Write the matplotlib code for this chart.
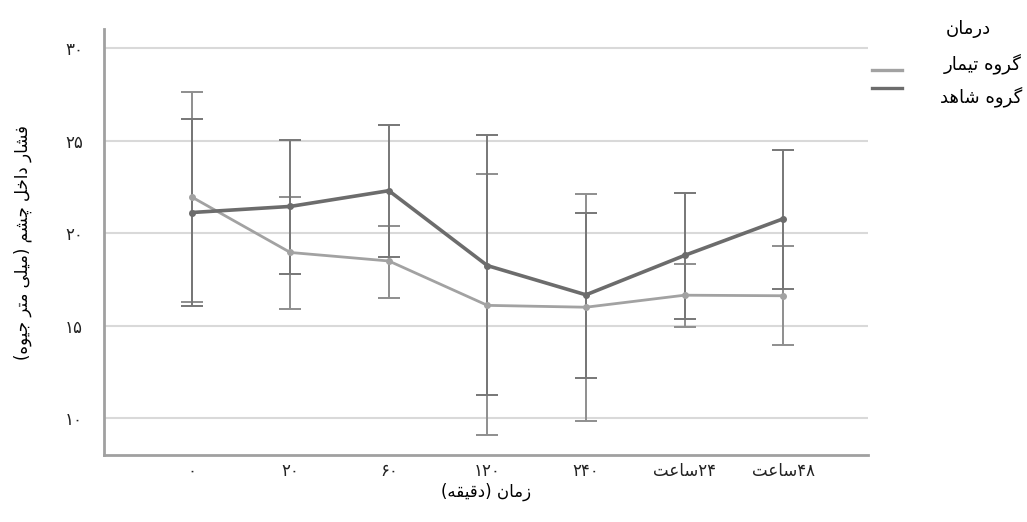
import matplotlib
matplotlib.use('Agg')
import matplotlib.pyplot as plt
from matplotlib.lines import Line2D

# شکل های حروف (منفرد، پایانی، آغازی، میانی)
FORMS = {
    'ا': ('\uFE8D', '\uFE8E', None, None),
    'ت': ('\uFE95', '\uFE96', '\uFE97', '\uFE98'),
    'ج': ('\uFE9D', '\uFE9E', '\uFE9F', '\uFEA0'),
    'خ': ('\uFEA5', '\uFEA6', '\uFEA7', '\uFEA8'),
    'د': ('\uFEA9', '\uFEAA', None, None),
    'ر': ('\uFEAD', '\uFEAE', None, None),
    'ز': ('\uFEAF', '\uFEB0', None, None),
    'س': ('\uFEB1', '\uFEB2', '\uFEB3', '\uFEB4'),
    'ش': ('\uFEB5', '\uFEB6', '\uFEB7', '\uFEB8'),
    'ع': ('\uFEC9', '\uFECA', '\uFECB', '\uFECC'),
    'ف': ('\uFED1', '\uFED2', '\uFED3', '\uFED4'),
    'ق': ('\uFED5', '\uFED6', '\uFED7', '\uFED8'),
    'ل': ('\uFEDD', '\uFEDE', '\uFEDF', '\uFEE0'),
    'م': ('\uFEE1', '\uFEE2', '\uFEE3', '\uFEE4'),
    'ن': ('\uFEE5', '\uFEE6', '\uFEE7', '\uFEE8'),
    'ه': ('\uFEE9', '\uFEEA', '\uFEEB', '\uFEEC'),
    'و': ('\uFEED', '\uFEEE', None, None),
    'ی': ('\uFBFC', '\uFBFD', '\uFBFE', '\uFBFF'),
    'چ': ('\uFB7A', '\uFB7B', '\uFB7C', '\uFB7D'),
    'گ': ('\uFB92', '\uFB93', '\uFB94', '\uFB95'),
}
MIRROR = {'(': ')', ')': '('}


def shape(word):
    # اتصال حروف و برگرداندن ترتیب برای نمایش چپ به راست
    out = []
    for i, ch in enumerate(word):
        f = FORMS.get(ch)
        if f is None:
            out.append(MIRROR.get(ch, ch))
            continue
        prev = FORMS.get(word[i - 1]) if i > 0 else None
        nxt = FORMS.get(word[i + 1]) if i + 1 < len(word) else None
        join_prev = prev is not None and prev[2] is not None
        join_next = f[2] is not None and nxt is not None
        if join_prev and join_next:
            out.append(f[3])
        elif join_prev:
            out.append(f[1])
        elif join_next:
            out.append(f[2])
        else:
            out.append(f[0])
    return ''.join(reversed(out))


def rtl(text):
    return ' '.join(shape(w) for w in reversed(text.split(' ')))


# داده ها
x_labels = ['۰', '۲۰', '۶۰', '۱۲۰', '۲۴۰', shape('ساعت') + '۲۴', shape('ساعت') + '۴۸']
y_ticks = [10, 15, 20, 25, 30]
y_tick_labels = ['۱۰', '۱۵', '۲۰', '۲۵', '۳۰']

treat_mean = [21.96, 18.96, 18.50, 16.10, 16.00, 16.65, 16.62]
treat_lo = [16.28, 15.93, 16.52, 9.08, 9.84, 14.94, 13.95]
treat_hi = [27.64, 21.96, 20.40, 23.19, 22.14, 18.36, 19.31]

ctrl_mean = [21.12, 21.45, 22.30, 18.25, 16.67, 18.80, 20.78]
ctrl_lo = [16.04, 17.78, 18.69, 11.28, 12.20, 15.39, 17.01]
ctrl_hi = [26.20, 25.06, 25.84, 25.30, 21.10, 22.18, 24.52]

x_title = 'زمان (دقیقه)'
y_title = 'فشار داخل چشم (میلی متر جیوه)'
legend_title = 'درمان'
treat_name = 'گروه تیمار'
ctrl_name = 'گروه شاهد'

LIGHT = '#a2a2a2'
DARK = '#6c6c6c'

plt.rcParams['font.family'] = ['DejaVu Sans']

fig = plt.figure(figsize=(10.27, 5.22), dpi=100)
ax = fig.add_axes([0.1013, 0.128, 0.7437, 0.816])

xs = list(range(len(x_labels)))

for mean, lo, hi, col in [(treat_mean, treat_lo, treat_hi, '#8e8e8e'),
                          (ctrl_mean, ctrl_lo, ctrl_hi, '#777777')]:
    err = [[m - l for m, l in zip(mean, lo)], [h - m for m, h in zip(mean, hi)]]
    ax.errorbar(xs, mean, yerr=err, fmt='none', ecolor=col, elinewidth=1.4,
                capsize=8, capthick=1.4, zorder=3)

ax.plot(xs, treat_mean, color=LIGHT, lw=2.0, marker='o', ms=4, zorder=4)
ax.plot(xs, ctrl_mean, color=DARK, lw=2.6, marker='o', ms=4, zorder=5)

ax.set_xlim(-0.89, 6.86)
ax.set_ylim(8.0, 31.03)
ax.set_yticks(y_ticks)
ax.set_yticklabels(y_tick_labels)
ax.set_xticks(xs)
ax.set_xticklabels(x_labels)
ax.tick_params(axis='both', length=0, labelsize=12, colors='#222222')
ax.tick_params(axis='y', pad=15)
ax.tick_params(axis='x', pad=5)

ax.grid(axis='y', color='#d9d9d9', lw=1.5, zorder=0)
ax.set_axisbelow(True)
for s in ['top', 'right']:
    ax.spines[s].set_visible(False)
for s in ['left', 'bottom']:
    ax.spines[s].set_color('#a0a0a0')
    ax.spines[s].set_linewidth(2)

ax.set_xlabel(rtl(x_title), fontsize=12, labelpad=2)
ax.set_ylabel(rtl(y_title), fontsize=12, labelpad=24)

# راهنما
fig.text(0.943, 0.945, shape(legend_title), ha='center', va='center', fontsize=13)
fig.text(0.995, 0.878, rtl(treat_name), ha='right', va='center', fontsize=13)
fig.text(0.995, 0.814, rtl(ctrl_name), ha='right', va='center', fontsize=13)
fig.add_artist(Line2D([0.849, 0.878], [0.866, 0.866], transform=fig.transFigure,
                      color=LIGHT, lw=2.4))
fig.add_artist(Line2D([0.849, 0.878], [0.831, 0.831], transform=fig.transFigure,
                      color=DARK, lw=2.4))

fig.savefig('out.png', dpi=100)
